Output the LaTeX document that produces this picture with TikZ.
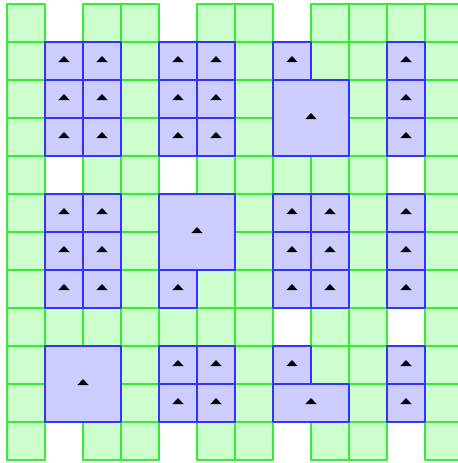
\documentclass[tikz,border=0pt]{standalone}
\definecolor{cellgreen}{RGB}{204,255,204}
\definecolor{linegreen}{RGB}{51,238,51}
\definecolor{cellblue}{RGB}{204,204,255}
\definecolor{lineblue}{RGB}{51,51,255}
\tikzset{
	freecell/.style={fill=cellgreen, draw=linegreen, line width=1.4pt},
	takencell/.style={fill=cellblue, draw=lineblue, line width=1.4pt}
}
\def\marker#1#2{\fill ({#1-0.15},{#2+0.03}) -- ({#1+0.15},{#2+0.03}) -- ({#1},{#2-0.13}) -- cycle;}
\begin{document}
\begin{tikzpicture}[x=1cm, y=-1cm, line join=round]
				\useasboundingbox (-0.184,-0.105) rectangle (11.868,12.079);
				\foreach \r in {1,2,3,5,6,7,9,10}
				\foreach \c in {0,...,11}
				\draw[freecell] (\c,\r) rectangle +(1,1);
				\foreach \r/\row in {0/{0,2,3,5,6,8,9,10,11}, 4/{0,2,3,5,6,7,8,9,11},
					8/{0,1,2,3,4,5,6,8,9,11}, 11/{0,2,3,5,6,8,9,11}}
				\foreach \c in \row
				\draw[freecell] (\c,\r) rectangle +(1,1);
				\foreach \c/\r in {1/1,2/1,4/1,5/1,7/1,10/1, 1/2,2/2,4/2,5/2,10/2, 1/3,2/3,4/3,5/3,10/3,
					1/5,2/5,7/5,8/5,10/5, 1/6,2/6,7/6,8/6,10/6, 1/7,2/7,4/7,7/7,8/7,10/7,
					4/9,5/9,7/9,10/9, 4/10,5/10,10/10}
				{\draw[takencell] (\c,\r) rectangle +(1,1); \marker{\c+0.5}{\r+0.5}}
				\foreach \x/\y/\w/\h in {7/2/2/2, 4/5/2/2, 1/9/2/2, 7/10/2/1}
				{\draw[takencell] (\x,\y) rectangle +(\w,\h); \marker{\x+\w/2}{\y+\h/2}}
			\end{tikzpicture}
\end{document}
